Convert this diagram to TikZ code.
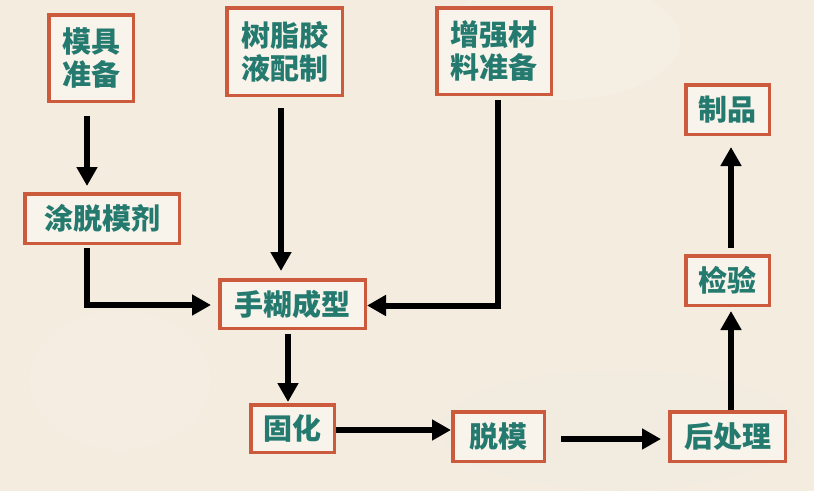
\documentclass[tikz,border=0pt]{standalone}
\usepackage{fontspec}
\newfontfamily\cjk{Noto Sans CJK SC}
\usetikzlibrary{arrows.meta,calc}
\definecolor{bgc}{HTML}{F4ECDF}
\definecolor{boxfill}{HTML}{F8F3EB}
\definecolor{boxline}{HTML}{CC5A3C}
\definecolor{txt}{HTML}{247A6E}
\tikzset{
  stepbox/.style={draw=boxline, line width=3.5pt, fill=boxfill, inner sep=0pt,
    align=center, text=txt, font=\cjk\bfseries\fontsize{29}{33}\selectfont},
  arr/.style={line width=6pt, draw=black, -{Triangle[width=20pt,length=19pt]}}
}
\begin{document}
\begin{tikzpicture}[x=1pt,y=-1pt]
\fill[bgc] (0,0) rectangle (814,491);
\useasboundingbox (0,0) rectangle (814,491);
% faint texture
\fill[white,opacity=0.12] (560,40) ellipse (120 and 60);
\fill[black!10,opacity=0.1] (620,430) ellipse (180 and 60);
\fill[white,opacity=0.1] (120,380) ellipse (90 and 70);

\node[stepbox, minimum width=84.5pt, minimum height=86.5pt] (mj) at (91,58) {模具\\准备};
\node[stepbox, minimum width=115.5pt, minimum height=87.5pt] (sz) at (284.5,51.5) {树脂胶\\液配制};
\node[stepbox, minimum width=114.5pt, minimum height=86.5pt] (zq) at (494,51) {增强材\\料准备};
\node[stepbox, minimum width=154.5pt, minimum height=49.5pt] (tt) at (102,218.5) {涂脱模剂};
\node[stepbox, minimum width=145.5pt, minimum height=48.5pt] (sh) at (292.5,304) {手糊成型};
\node[stepbox, minimum width=83.5pt, minimum height=47.5pt] (gh) at (292.5,428.5) {固化};
\node[stepbox, minimum width=91.5pt, minimum height=49.5pt] (tm) at (498.5,436.5) {脱模};
\node[stepbox, minimum width=115.5pt, minimum height=49.5pt] (hc) at (727.5,436.5) {后处理};
\node[stepbox, minimum width=83.5pt, minimum height=49.5pt] (jy) at (727.5,280.5) {检验};
\node[stepbox, minimum width=83.5pt, minimum height=49.5pt] (zp) at (727.5,109.5) {制品};

\draw[arr, shorten <=13pt, shorten >=6pt] ([xshift=-4pt]mj.south) -- ([xshift=-4pt]mj.south |- tt.north);
\draw[arr, shorten <=3pt, shorten >=7pt] ([xshift=-15pt]tt.south) |- ([yshift=-1pt]sh.west);
\draw[arr, shorten <=11pt, shorten >=7pt] ([xshift=-3.5pt]sz.south) -- ([xshift=-3.5pt]sz.south |- sh.north);
\draw[arr, shorten <=4pt] ([xshift=4pt]zq.south) |- ([yshift=-1.5pt]sh.east);
\draw[arr, shorten <=4pt, shorten >=1pt] ([xshift=-4.5pt]sh.south) -- ([xshift=-4.5pt]sh.south |- gh.north);
\draw[arr] ([yshift=-1.5pt]gh.east) -- ([yshift=-1.5pt]gh.east -| tm.west);
\draw[arr, shorten <=15pt, shorten >=7pt] ([yshift=-2.5pt]tm.east) -- ([yshift=-2.5pt]tm.east -| hc.west);
\draw[arr, shorten >=4pt] ([xshift=3.5pt]hc.north) -- ([xshift=3.5pt]hc.north |- jy.south);
\draw[arr, shorten <=6pt, shorten >=11pt] ([xshift=3.5pt]jy.north) -- ([xshift=3.5pt]jy.north |- zp.south);
\end{tikzpicture}
\end{document}
